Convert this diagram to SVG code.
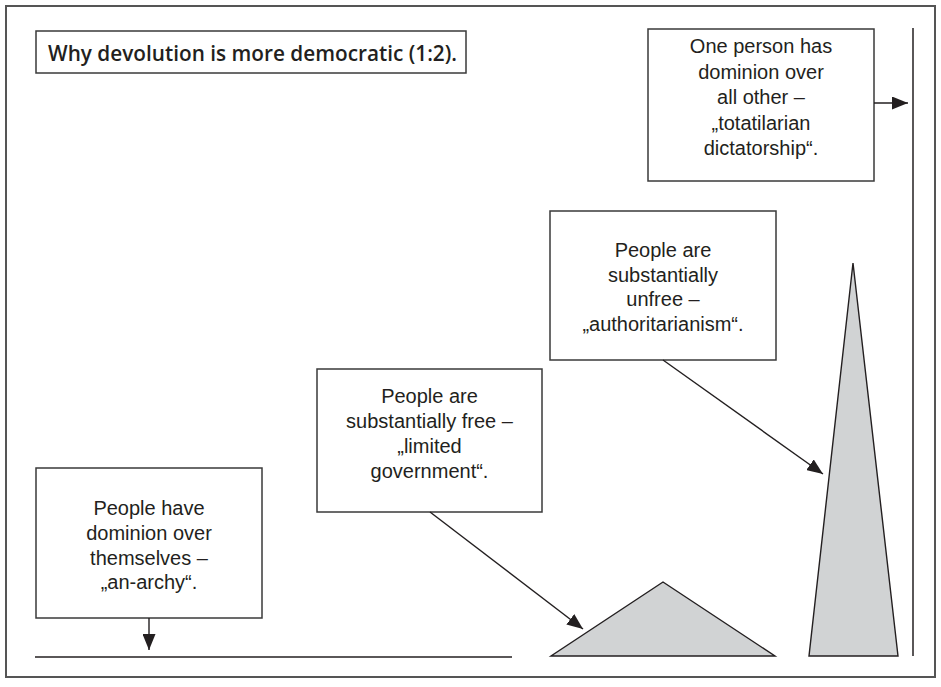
<svg xmlns="http://www.w3.org/2000/svg" width="941" height="687" viewBox="0 0 941 687">
  <style>
    .box { fill: #ffffff; stroke: #3a3a3a; stroke-width: 1.5; }
    .lbl { font-family: "Liberation Sans", Arial, sans-serif; font-size: 20px; fill: #231f20; text-anchor: middle; }
    .title { font-family: "Open Sans", "Liberation Sans", Arial, sans-serif; font-size: 22px; font-weight: 600; fill: #231f20; }
    .conn { stroke: #231f20; stroke-width: 1.4; fill: none; }
    .shape { fill: #d1d3d4; stroke: #231f20; stroke-width: 1.4; stroke-linejoin: miter; }
    .rule { stroke: #231f20; stroke-width: 1.5; }
  </style>
  <defs>
    <marker id="arrow" markerUnits="userSpaceOnUse" markerWidth="17" markerHeight="13" refX="16" refY="6.5" orient="auto">
      <path d="M0,0 L16,6.5 L0,13 z" fill="#231f20"/>
    </marker>
  </defs>
  <rect x="0" y="0" width="941" height="687" fill="#ffffff"/>
  <rect id="frame" x="6" y="6" width="929" height="671" fill="none" stroke="#555555" stroke-width="2"/>

  <g id="title">
    <rect class="box" x="36" y="31" width="430" height="42"/>
    <text class="title" x="48" y="61" textLength="409" lengthAdjust="spacingAndGlyphs">Why devolution is more democratic (1:2).</text>
  </g>

  <g id="baselines">
    <line class="rule" x1="35" y1="657" x2="512" y2="657"/>
    <line class="rule" x1="913" y1="28" x2="913" y2="656"/>
  </g>

  <g id="shapes">
    <polygon id="flat-triangle" class="shape" points="663,582 551,656 775,656"/>
    <polygon id="tall-triangle" class="shape" points="853,263 809,656 898,656"/>
  </g>

  <g id="dictatorship">
    <rect class="box" x="648" y="29" width="226" height="152"/>
    <text class="lbl" x="761" y="53">One person has</text>
    <text class="lbl" x="761" y="78.5">dominion over</text>
    <text class="lbl" x="761" y="104">all other –</text>
    <text class="lbl" x="761" y="129.5">„totatilarian</text>
    <text class="lbl" x="761" y="155">dictatorship“.</text>
  </g>

  <g id="authoritarianism">
    <rect class="box" x="550" y="211" width="226" height="149"/>
    <text class="lbl" x="663" y="257">People are</text>
    <text class="lbl" x="663" y="281.5">substantially</text>
    <text class="lbl" x="663" y="306">unfree –</text>
    <text class="lbl" x="663" y="330.5">„authoritarianism“.</text>
  </g>

  <g id="limited-government">
    <rect class="box" x="317" y="369" width="225" height="143"/>
    <text class="lbl" x="429.5" y="403">People are</text>
    <text class="lbl" x="429.5" y="428">substantially free –</text>
    <text class="lbl" x="429.5" y="453">„limited</text>
    <text class="lbl" x="429.5" y="478">government“.</text>
  </g>

  <g id="anarchy">
    <rect class="box" x="36" y="468" width="226" height="150"/>
    <text class="lbl" x="149" y="515">People have</text>
    <text class="lbl" x="149" y="540">dominion over</text>
    <text class="lbl" x="149" y="565">themselves –</text>
    <text class="lbl" x="149" y="589">„an-archy“.</text>
  </g>

  <g id="connectors">
    <line class="conn" x1="149" y1="618" x2="149" y2="650" marker-end="url(#arrow)"/>
    <line class="conn" x1="430" y1="512" x2="583" y2="629" marker-end="url(#arrow)"/>
    <line class="conn" x1="663" y1="360" x2="823" y2="474" marker-end="url(#arrow)"/>
    <line class="conn" x1="874" y1="103" x2="908" y2="103" marker-end="url(#arrow)"/>
  </g>
</svg>
